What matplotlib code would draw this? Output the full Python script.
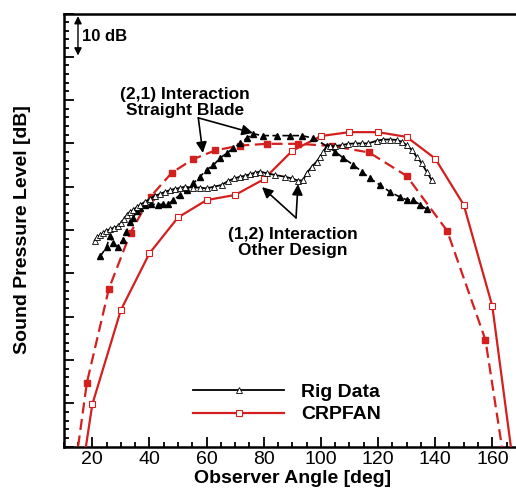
import matplotlib.pyplot as plt
from matplotlib.ticker import MultipleLocator, NullFormatter

plt.rcParams['font.family'] = ['Liberation Sans', 'DejaVu Sans']

RED = '#d41f1f'

# CRPFAN prediction, (1,2) other design: solid line, open squares
crp12_deg = [10, 20, 30, 40, 50, 60, 70, 80, 90, 100, 110, 120, 130, 140, 150, 160, 170]
crp12_db = [-34, 9.7, 31.5, 44.6, 52.9, 56.9, 58.1, 61.7, 68.3, 71.7, 72.6, 72.6, 71.5,
            66.5, 55.8, 32.4, -17.6]

# CRPFAN prediction, (2,1) straight blade: dashed line, filled squares
crp21_deg = [11.5, 18.1, 25.8, 33.4, 40.4, 47.8, 55.1, 63.1, 71.7, 81.0, 92.1, 104.0,
             116.9, 130.0, 144.2, 157.6, 168]
crp21_db = [-17, 14.7, 36.4, 49.4, 57.7, 63.2, 66.3, 68.4, 69.5, 69.9, 69.9, 69.4,
            67.9, 62.5, 49.8, 24.6, -20]

# rig data, (2,1) interaction straight blade: filled triangles, dashed
rig21_deg = [22.8, 25.0, 26.1, 27.4, 29.0, 30.7, 31.9, 33.2, 34.2, 35.5, 36.7, 38.4,
             40.7, 43.0, 44.7, 46.5, 48.4, 50.7, 53.0, 55.4, 57.7, 60.0, 62.4, 64.7,
             67.0, 69.4, 71.7, 74.0, 76.4, 79.7, 84.5, 89.2, 93.3, 97.4, 102.0, 105.0,
             107.9, 111.4, 114.3, 117.2, 120.7, 124.2, 127.7, 130.0, 132.4, 134.7, 137.0]
rig21_db = [43.9, 46.1, 48.5, 46.9, 46.1, 47.7, 49.6, 51.8, 52.7, 54.3, 55.1, 55.7,
            56.0, 55.8, 56.0, 56.0, 56.9, 58.1, 59.2, 60.8, 62.3, 63.9, 65.0, 66.6,
            67.7, 68.9, 70.0, 71.2, 72.2, 71.8, 71.8, 71.8, 71.8, 71.2, 69.4, 68.1,
            66.6, 65.0, 63.5, 61.9, 60.4, 58.8, 57.6, 57.0, 56.9, 55.8, 54.8]

# rig data, (1,2) interaction other design: open triangles, solid
rig12_deg = [20.8, 21.6, 22.7, 23.7, 24.8, 26.2, 27.6, 29.0, 30.0, 31.1, 32.1, 33.2,
             34.2, 35.6, 36.7, 38.4, 40.2, 41.9, 43.7, 45.4, 47.2, 48.9, 50.7, 52.4,
             55.2, 57.7, 60.0, 62.6, 65.3, 67.5, 69.6, 71.7, 73.4, 75.2, 76.9, 78.7,
             81.0, 84.0, 87.4, 89.9, 92.0, 93.7, 95.0, 96.8, 98.5, 99.7, 100.9, 102.0,
             103.2, 105.0, 107.3, 109.6, 112.0, 114.3, 116.6, 119.5, 121.9, 124.2,
             126.5, 128.3, 130.0, 131.8, 133.5, 135.3, 137.0, 138.8]
rig12_db = [47.5, 48.3, 48.8, 49.3, 49.8, 50.2, 50.5, 50.9, 51.6, 52.5, 53.5, 54.2,
            54.6, 55.3, 55.8, 56.5, 57.2, 57.9, 58.3, 58.8, 59.2, 59.5, 59.7, 60.0,
            59.8, 59.8, 59.6, 60.0, 60.4, 61.3, 61.9, 62.3, 62.5, 62.9, 63.2, 63.5,
            63.1, 62.7, 62.3, 61.9, 61.4, 61.5, 63.1, 64.6, 65.8, 66.9, 68.1, 69.0,
            69.3, 69.4, 69.6, 69.9, 70.0, 70.0, 70.0, 70.6, 70.9, 70.9, 70.8, 70.4,
            69.6, 68.5, 66.9, 65.4, 63.5, 61.5]

fig = plt.figure(figsize=(5.16, 4.95), dpi=100)
ax = fig.add_axes([63.7 / 516, 48.5 / 495, 457.2 / 516, 433 / 495])

ax.plot(crp12_deg, crp12_db, '-', color=RED, lw=1.6, marker='s', ms=4.6,
        mfc='white', mec=RED, mew=0.8, label='CRPFAN', zorder=3)
ax.plot(crp21_deg, crp21_db, '--', color=RED, lw=1.6, dashes=(5, 2.5), marker='s', ms=4.6,
        mfc=RED, mec=RED, zorder=3)
ax.plot(rig21_deg, rig21_db, '--', color='black', lw=1.2, dashes=(4, 2), marker='^', ms=4.6,
        mfc='black', mec='black', zorder=4)
ax.plot(rig12_deg, rig12_db, '-', color='black', lw=1.3, marker='^', ms=4.6,
        mfc='white', mec='black', mew=0.6, label='Rig Data', zorder=4)

ax.set_xlim(10, 170)
ax.set_ylim(0, 100)
ax.xaxis.set_major_locator(MultipleLocator(20))
ax.xaxis.set_minor_locator(MultipleLocator(5))
ax.yaxis.set_major_locator(MultipleLocator(10))
ax.yaxis.set_minor_locator(MultipleLocator(2))
ax.yaxis.set_major_formatter(NullFormatter())
ax.tick_params(which='both', direction='in', top=False, right=False, width=1.3)
ax.tick_params(which='major', length=7, labelsize=14, pad=3)
ax.tick_params(which='minor', length=3.5)
for s in ax.spines.values():
    s.set_linewidth(1.8)

ax.set_xlabel('Observer Angle [deg]', fontsize=14, fontweight='bold', labelpad=2)
ax.set_ylabel('Sound Pressure Level [dB]', fontsize=14, fontweight='bold', labelpad=20)

# 10 dB scale marker
ax.annotate('', xy=(15, 90.3), xytext=(15, 99.4),
            arrowprops=dict(arrowstyle='<|-|>', color='black', lw=1.0, mutation_scale=11,
                            shrinkA=0, shrinkB=0))
ax.text(16.3, 94.8, '10 dB', fontsize=12, fontweight='bold', va='center', ha='left')

# (2,1) annotation
ax.text(52.4, 79.5, '(2,1) Interaction\nStraight Blade', fontsize=12.5, fontweight='bold',
        ha='center', va='center', linespacing=1.1)
for tgt in [(58.7, 67.8), (76.2, 72.4)]:
    ax.annotate('', xy=tgt, xytext=(57.1, 75.9),
                arrowprops=dict(arrowstyle='-|>', color='black', lw=1.2, mutation_scale=16,
                                shrinkA=0, shrinkB=0))

# (1,2) annotation
ax.text(90.2, 47.1, '(1,2) Interaction\nOther Design', fontsize=12.5, fontweight='bold',
        ha='center', va='center', linespacing=1.1)
for tgt in [(79.4, 59.9), (92.0, 60.6)]:
    ax.annotate('', xy=tgt, xytext=(91.3, 52.8),
                arrowprops=dict(arrowstyle='-|>', color='black', lw=1.2, mutation_scale=16,
                                shrinkA=0, shrinkB=0))

handles, labels = ax.get_legend_handles_labels()
leg = ax.legend(handles[::-1], labels[::-1], loc='upper left', bbox_to_anchor=(0.283, 0.146),
                frameon=False, numpoints=1, handlelength=4.7, handletextpad=0.85,
                labelspacing=0.25, borderpad=0, borderaxespad=0,
                prop=dict(size=14, weight='bold'))

fig.savefig('out.png', dpi=100)
